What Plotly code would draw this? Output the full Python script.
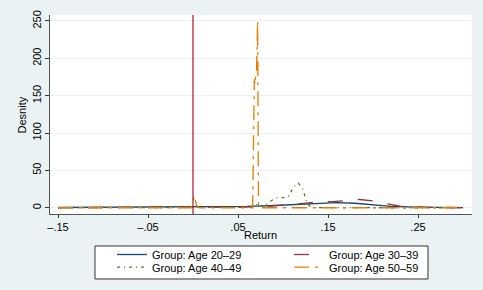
import plotly.graph_objects as go

# ---- data ----
x_20 = [-0.15, -0.12, -0.09, -0.06, -0.03, 0.0, 0.03, 0.06, 0.09, 0.12, 0.14, 0.16, 0.18, 0.2, 0.22, 0.25, 0.28, 0.3]
y_20 = [0.3, 0.4, 0.6, 1.0, 1.4, 1.6, 1.6, 1.8, 3.0, 5.0, 6.3, 6.8, 6.0, 4.0, 1.8, 0.8, 0.4, 0.2]

x_30 = [-0.15, -0.1, -0.05, 0.0, 0.05, 0.08, 0.1, 0.12, 0.14, 0.155, 0.17, 0.185, 0.2, 0.215, 0.23, 0.26, 0.3]
y_30 = [0.1, 0.1, 0.2, 0.5, 1.0, 1.5, 3.0, 5.5, 8.0, 8.2, 9.5, 11.0, 9.0, 5.0, 2.0, 0.5, 0.1]

x_40 = [-0.15, -0.05, 0.0, 0.05, 0.065, 0.072, 0.078, 0.085, 0.092, 0.1, 0.106, 0.112, 0.117, 0.122, 0.127, 0.132, 0.15, 0.2, 0.3]
y_40 = [0.0, 0.0, 0.2, 0.3, 0.5, 5.0, 1.0, 8.0, 13.0, 13.5, 15.0, 28.0, 33.0, 25.0, 5.0, 0.2, 0.0, 0.0, 0.0]

x_50 = [-0.15, -0.05, -0.002, 0.0015, 0.004, 0.007, 0.05, 0.0663, 0.0681, 0.069, 0.0695, 0.0705, 0.0718, 0.0728, 0.08, 0.15, 0.2, 0.3]
y_50 = [0.0, 0.0, 0.0, 16.0, 3.0, 0.0, 0.0, 0.0, 172.0, 165.0, 175.0, 180.0, 250.0, 0.0, 0.0, 0.0, 0.0, 0.0]

series_names = ["Group: Age 20\u201329", "Group: Age 30\u201339", "Group: Age 40\u201349", "Group: Age 50\u201359"]
x_ticks = [-0.15, -0.05, 0.05, 0.15, 0.25]
x_tick_labels = ["\u2013.15", "\u2013.05", ".05", ".15", ".25"]
y_ticks = [0, 50, 100, 150, 200, 250]
x_title = "Return"
y_title = "Desnity"
ref_x = 0.0

colors = ["#1a476f", "#90353b", "#55752f", "#e37e00"]
dashes = ["solid", "longdash", "3px,4px,1px,4px", "longdashdot"]
legend_rows = ["legend", "legend", "legend2", "legend2"]

fig = go.Figure()
for xs, ys, name, c, d, lg in zip([x_20, x_30, x_40, x_50], [y_20, y_30, y_40, y_50],
                                  series_names, colors, dashes, legend_rows):
    fig.add_trace(go.Scatter(x=xs, y=ys, mode="lines", name=name, legend=lg,
                             line=dict(color=c, width=1.3, dash=d)))

fig.add_shape(type="line", xref="x", yref="paper", x0=ref_x, x1=ref_x, y0=0, y1=1,
              line=dict(color="#a8132f", width=1.2))
# legend frame
fig.add_shape(type="rect", xref="paper", yref="paper", x0=0.1066, x1=0.8957,
              y0=-0.3266, y1=-0.1608, line=dict(color="#333333", width=1),
              fillcolor="white", layer="above")

# axis titles
fig.add_annotation(text=x_title, xref="paper", yref="paper", x=0.499, y=-0.1055,
                   xanchor="center", yanchor="middle", showarrow=False,
                   font=dict(size=11))
fig.add_annotation(text=y_title, xref="paper", yref="paper", x=-0.0664, y=0.5,
                   xanchor="center", yanchor="middle", showarrow=False,
                   textangle=-90, font=dict(size=11))

font = "Liberation Sans, Arial, sans-serif"
leg_common = dict(orientation="h", xref="container", yref="container",
                  xanchor="left", yanchor="top",
                  entrywidth=132, entrywidthmode="pixels",
                  bgcolor="rgba(0,0,0,0)", borderwidth=0,
                  font=dict(size=11), tracegroupgap=0)
fig.update_layout(
    width=483, height=290,
    margin=dict(l=50, r=11, t=15, b=76, autoexpand=False),
    paper_bgcolor="#eaf2f3", plot_bgcolor="white",
    font=dict(family=font, size=11, color="black"),
    showlegend=True,
    legend=dict(x=0.2319, y=0.1724, **leg_common),
    legend2=dict(x=0.2319, y=0.1286, **leg_common),
    xaxis=dict(range=[-0.1589, 0.31], tickvals=x_ticks, ticktext=x_tick_labels,
               showgrid=False, zeroline=False, showline=True, linecolor="#555555",
               ticks="outside", ticklen=3, tickcolor="#333333"),
    yaxis=dict(range=[-8.4, 258], tickvals=y_ticks, tickangle=-90,
               showgrid=True, gridcolor="#eaf2f3", gridwidth=1, zeroline=False,
               showline=True, linecolor="#555555",
               ticks="outside", ticklen=4, tickcolor="#333333"),
)

fig.write_html("out.html", config={"displayModeBar": False},
               post_script="document.body.style.margin='0';document.body.style.overflow='hidden';")
